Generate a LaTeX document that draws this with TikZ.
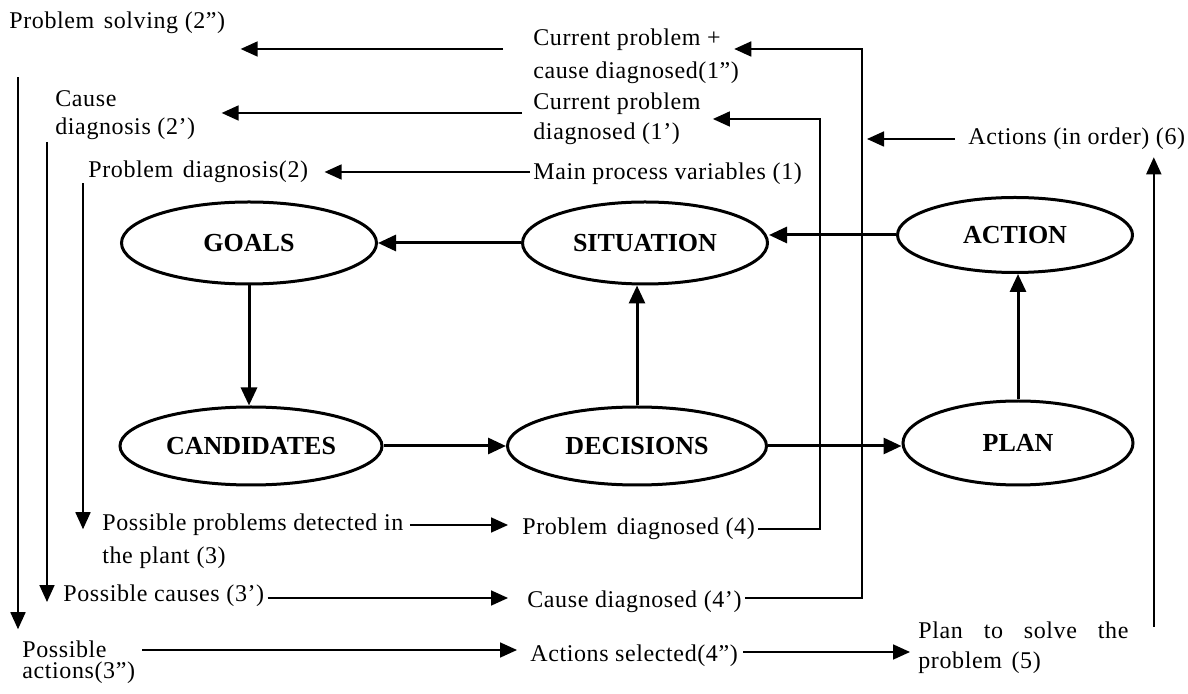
\documentclass[tikz,border=0pt]{standalone}
\usepackage{fontspec}
\setmainfont{Liberation Serif}
\newfontfamily\txtfont{Liberation Serif}[LetterSpace=2.5]
\usetikzlibrary{arrows.meta,shapes.geometric,calc}

\tikzset{
  state/.style={ellipse, draw, line width=1.5pt, inner sep=0pt,
    font=\fontsize{13}{15}\selectfont\bfseries},
  lbl/.style={anchor=west, inner sep=0pt, align=left,
    font=\txtfont\fontsize{12}{15}\selectfont},
  thinarr/.style={line width=0.85pt, -{Triangle[length=8.5pt,width=7.5pt]}},
  thickarr/.style={line width=1.5pt, -{Triangle[length=9pt,width=8pt]}},
}

\begin{document}
\begin{tikzpicture}[x=0.5pt,y=-0.5pt]
\useasboundingbox (0,0) rectangle (1188,694);

% decision cycle
\node[state, minimum width=127.5pt, minimum height=41pt] (goals) at (249,243) {GOALS};
\node[state, minimum width=122.5pt, minimum height=41pt] (sit)   at (645,243) {SITUATION};
\node[state, minimum width=117.5pt, minimum height=37.5pt] (act) at (1015,235) {ACTION};
\node[state, minimum width=131pt,   minimum height=39pt] (cand)  at (251,446) {CANDIDATES};
\node[state, minimum width=129.5pt, minimum height=39pt] (dec)   at (637,446) {DECISIONS};
\node[state, minimum width=115pt,   minimum height=42pt] (plan)  at (1018,443) {PLAN};

\draw[thickarr] (sit) -- (goals);
\draw[thickarr] (act.west) -- (act.west -| sit.east);
\draw[thickarr] (goals.south) -- (goals.south |- cand.north);
\draw[thickarr] (cand) -- (dec);
\draw[thickarr] (dec.north) -- (dec.north |- sit.south);
\draw[thickarr] (dec.east) -- (dec.east -| plan.west);
\draw[thickarr] (plan.north) -- (plan.north |- act.south);

% labels of the reasoning steps
\node[lbl] (ps)   at (9,23)    {Problem\hspace{0.4em}solving (2”)};
\node[lbl] (cd2)  at (55,115)  {Cause\\[-1pt]diagnosis (2’)};
\node[lbl] (pd)   at (88,172)  {Problem\hspace{0.4em}diagnosis(2)};
\node[lbl] (cp2)  at (533,56)  {Current problem +\\[1.5pt]cause diagnosed(1”)};
\node[lbl] (cp1)  at (533,119) {Current problem\\diagnosed (1’)};
\node[lbl] (mpv)  at (533,174) {Main process variables (1)};
\node[lbl] (aio)  at (968,139) {Actions (in order) (6)};
\node[lbl] (ppd)  at (102,541) {Possible problems detected in\\[1.5pt]the plant (3)};
\node[lbl] (pdg)  at (522,529) {Problem\hspace{0.4em}diagnosed (4)};
\node[lbl] (pc)   at (63,596)  {Possible causes (3’)};
\node[lbl] (cdg)  at (527,602) {Cause diagnosed (4’)};
\node[lbl] (pa)   at (22,662)  {Possible\\[-4.5pt]actions(3”)};
\node[lbl] (asel) at (530,656) {Actions selected(4”)};
\node[lbl] (plan5) at (918,648) {\makebox[105pt][s]{Plan to solve the}\\problem\hspace{0.4em}(5)};

% vertical buses on the right
\coordinate (busA) at (862,0);
\coordinate (busB) at (820,0);

% flows towards the left-hand labels
\draw[thinarr] ($(cp2.west)+(-30,-7)$) coordinate (a1) -- ($(ps.east |- a1)+(15,0)$);
\draw[thinarr] ($(cp1.west)+(-11,-6)$) coordinate (a2) -- ($(cd2.east |- a2)+(26,0)$);
\draw[thinarr] ($(mpv.west)+(-3,-2)$) coordinate (a3) -- ($(pd.east |- a3)+(16,0)$);

% feedback of diagnosed results to the top
\draw[thinarr] ($(cdg.east)+(3,-4)$) coordinate (b1) -- (b1 -| busA) -- (busA |- a1)
  -- ($(cp2.east |- a1)+(-5,0)$);
\draw[thinarr] ($(pdg.east)+(3,0)$) coordinate (b2) -- (b2 -| busB) -- (busB |- cp1.east)
  -- ($(cp1.east)+(12,0)$);
\draw[thinarr] ($(aio.west)+(-13,0)$) -- ($(busA |- aio.west)+(5,0)$);
\draw[thinarr] ($(plan5.north east)+(25,5)$) coordinate (c1) -- ($(c1 |- aio.south)+(0,7)$);

% downward flows on the left
\draw[thinarr] ($(ps.south west)+(9,43)$) coordinate (l1) -- ($(l1 |- pa.north)+(0,-11)$);
\draw[thinarr] ($(cd2.south west)+(-8,2)$) coordinate (l2) -- ($(l2 |- pc.west)+(0,6)$);
\draw[thinarr] ($(pd.south west)+(-5,0)$) coordinate (l3) -- ($(l3 |- ppd.north)+(0,16)$);

% flows along the bottom rows
\draw[thinarr] ($(ppd.east)+(6,-16)$) coordinate (h1) -- ($(pdg.west |- h1)+(-14,0)$);
\draw[thinarr] ($(pc.east)+(3,2)$) coordinate (h2) -- ($(cdg.west |- h2)+(-19,0)$);
\draw[thinarr] ($(pa.east)+(7,-12)$) coordinate (h3) -- ($(asel.west |- h3)+(-13,0)$);
\draw[thinarr] ($(asel.east)+(5,-4)$) coordinate (h4) -- ($(plan5.west |- h4)+(-8,0)$);
\end{tikzpicture}
\end{document}
